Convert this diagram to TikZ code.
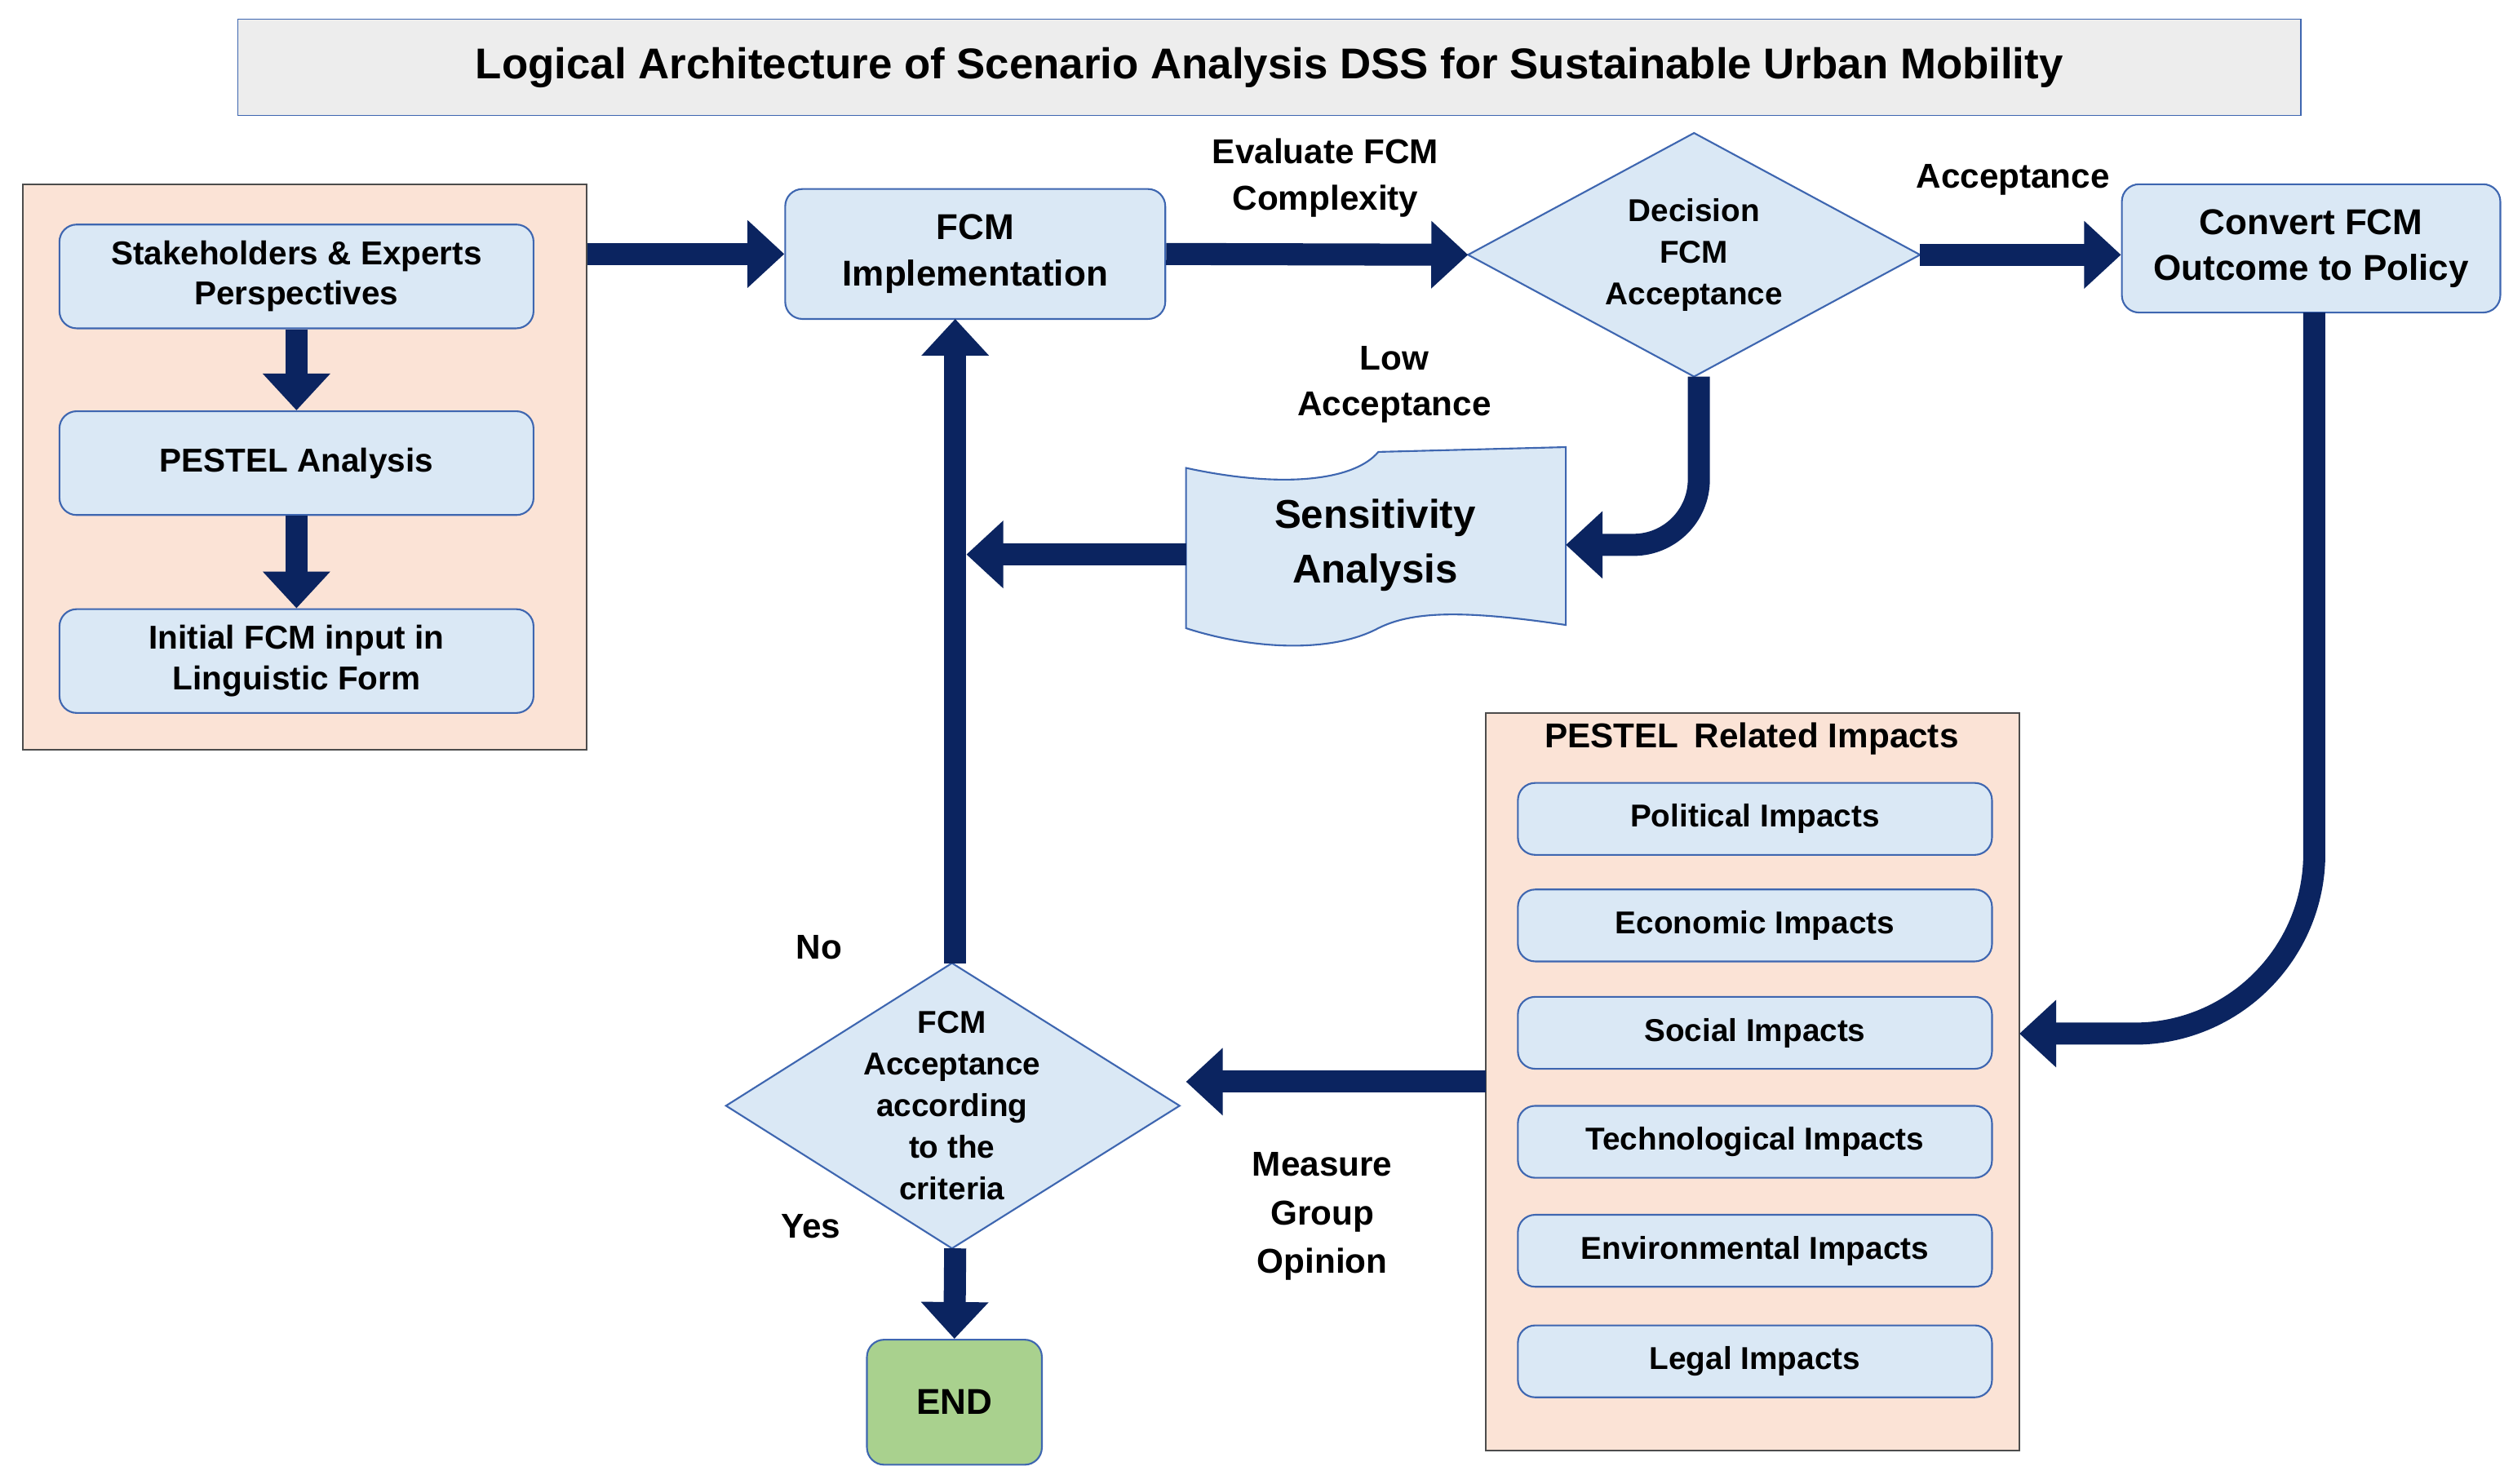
\documentclass[tikz,border=0pt]{standalone}
\usepackage{fontspec}
\setmainfont{Liberation Sans}
\usetikzlibrary{shapes.geometric,arrows.meta}
\definecolor{navy}{HTML}{0B2460}
\definecolor{peach}{HTML}{FBE3D6}
\definecolor{lblue}{HTML}{DAE8F5}
\definecolor{bord}{HTML}{3E66B0}
\definecolor{tgray}{HTML}{EDEDED}
\definecolor{green}{HTML}{A9D18E}
\begin{document}
\begin{tikzpicture}[x=0.0196cm,y=-0.0196cm,
  every node/.style={font=\bfseries, text=black},
  box/.style={draw=bord, line width=0.6pt, fill=lblue, rounded corners=6pt, align=center, minimum width=5.80cm, minimum height=1.27cm, font=\bfseries\fontsize{11.5}{14}\selectfont},
  ibox/.style={box, minimum height=0.88cm, font=\bfseries\fontsize{11}{13}\selectfont},
  panel/.style={draw=black!70, line width=0.6pt, fill=peach},
  diash/.style={draw=bord, line width=0.6pt, fill=lblue},
  diat/.style={align=center, font=\bfseries\fontsize{11}{14.5}\selectfont},
  big/.style={line width=0.27cm, draw=navy, -{Triangle[length=0.45cm,width=0.8cm]}},
  lab/.style={align=center, font=\bfseries\fontsize{12}{16}\selectfont}]
\useasboundingbox (0,0) rectangle (1568,926);
\node[draw=bord, fill=tgray, minimum width=25.24cm, minimum height=1.18cm, font=\bfseries\fontsize{15}{18}\selectfont] (title) at (792,42) {Logical Architecture of Scenario Analysis DSS for Sustainable Urban Mobility};
\node[panel, minimum width=6.90cm, minimum height=6.92cm] (left) at (190,291.5) {};
\node[box] (stake) at (185,172.5) {Stakeholders \& Experts\\Perspectives};
\node[box] (pestel) at (185,289) {PESTEL Analysis};
\node[box] (init) at (185,412.5) {Initial FCM input in\\Linguistic Form};
\node[box, minimum width=4.65cm, minimum height=1.59cm, font=\bfseries\fontsize{12.5}{16}\selectfont] (impl) at (608.5,158.5) {FCM\\Implementation};
% decision diamond
\coordinate (decW) at (916,159); \coordinate (decE) at (1198,159);
\coordinate (decN) at (1057,83); \coordinate (decS) at (1057,235);
\draw[diash] (decW) -- (decN) -- (decE) -- (decS) -- cycle;
\node[diat] (dec) at (1057,159) {Decision\\FCM\\Acceptance};
\node[box, minimum width=4.63cm, minimum height=1.57cm, font=\bfseries\fontsize{12.5}{16}\selectfont] (conv) at (1442,155) {Convert FCM\\Outcome to Policy};
% sensitivity tape
\draw[draw=bord, line width=0.6pt, fill=lblue] (740,292) .. controls (800,305) and (845,300) .. (860,282) -- (977,279) -- (977,390) .. controls (910,380) and (880,382) .. (860,392) .. controls (830,408) and (780,405) .. (740,392) -- cycle;
\node[lab, font=\bfseries\fontsize{14}{19}\selectfont] (sens) at (858,340) {Sensitivity\\Analysis};
\coordinate (sensL) at (740,346);
\coordinate (sensR) at (977,340);
\node[panel, minimum width=6.53cm, minimum height=9.02cm] (rp) at (1093.5,675) {};
\node[font=\bfseries\fontsize{12}{14}\selectfont] (rpt) at (1093,461) {PESTEL\,\ Related Impacts};
\node[ibox] (i1) at (1095,511) {Political Impacts};
\node[ibox] (i2) at (1095,577.5) {Economic Impacts};
\node[ibox] (i3) at (1095,644.5) {Social Impacts};
\node[ibox] (i4) at (1095,712.5) {Technological Impacts};
\node[ibox] (i5) at (1095,780.5) {Environmental Impacts};
\node[ibox] (i6) at (1095,849.5) {Legal Impacts};
% acceptance diamond
\coordinate (accW) at (453,690); \coordinate (accE) at (736,690);
\coordinate (accN) at (594,601); \coordinate (accS) at (594,779);
\draw[diash] (accW) -- (accN) -- (accE) -- (accS) -- cycle;
\node[diat] (acc) at (594,690) {FCM\\Acceptance\\according\\to the\\criteria};
\node[box, fill=green, minimum width=2.14cm, minimum height=1.53cm, font=\bfseries\fontsize{12.5}{16}\selectfont] (end) at (595.5,875) {END};
% arrows
\draw[big] (stake.south) -- (pestel.north);
\draw[big] (pestel.south) -- (init.north);
\draw[big] (left.east |- impl.west) -- (impl.west);
\draw[big] (impl.east) -- (decW);
\draw[big] (decE) -- (conv.west |- decE);
\coordinate (dbot) at (1060,235);
\draw[big, rounded corners=0.8cm] (dbot) -- (1060,340) -- (sensR);
\coordinate (leftTip) at (603,346);
\draw[big] (sensL) -- (leftTip);
\draw[big] (596,601) -- (596,199);
\coordinate (cb) at (1444,195);
\coordinate (rpr) at (1260,645);
\draw[big, rounded corners=2.2cm] (cb) -- (1444,645) -- (rpr);
\draw[big] (927,675) -- (740,675);
\draw[big] (596,779) -- (end.north);
% labels
\node[lab] (l1) at (827,111) {Evaluate FCM\\Complexity};
\node[lab] (l2) at (1256,112) {Acceptance};
\node[lab] (l3) at (870,240) {Low\\Acceptance};
\node[lab, font=\bfseries\fontsize{12}{17}\selectfont] (l4) at (825,759) {Measure\\Group\\Opinion};
\node[lab] (l5) at (511,591) {No};
\node[lab] (l6) at (506,765) {Yes};
\end{tikzpicture}
\end{document}
